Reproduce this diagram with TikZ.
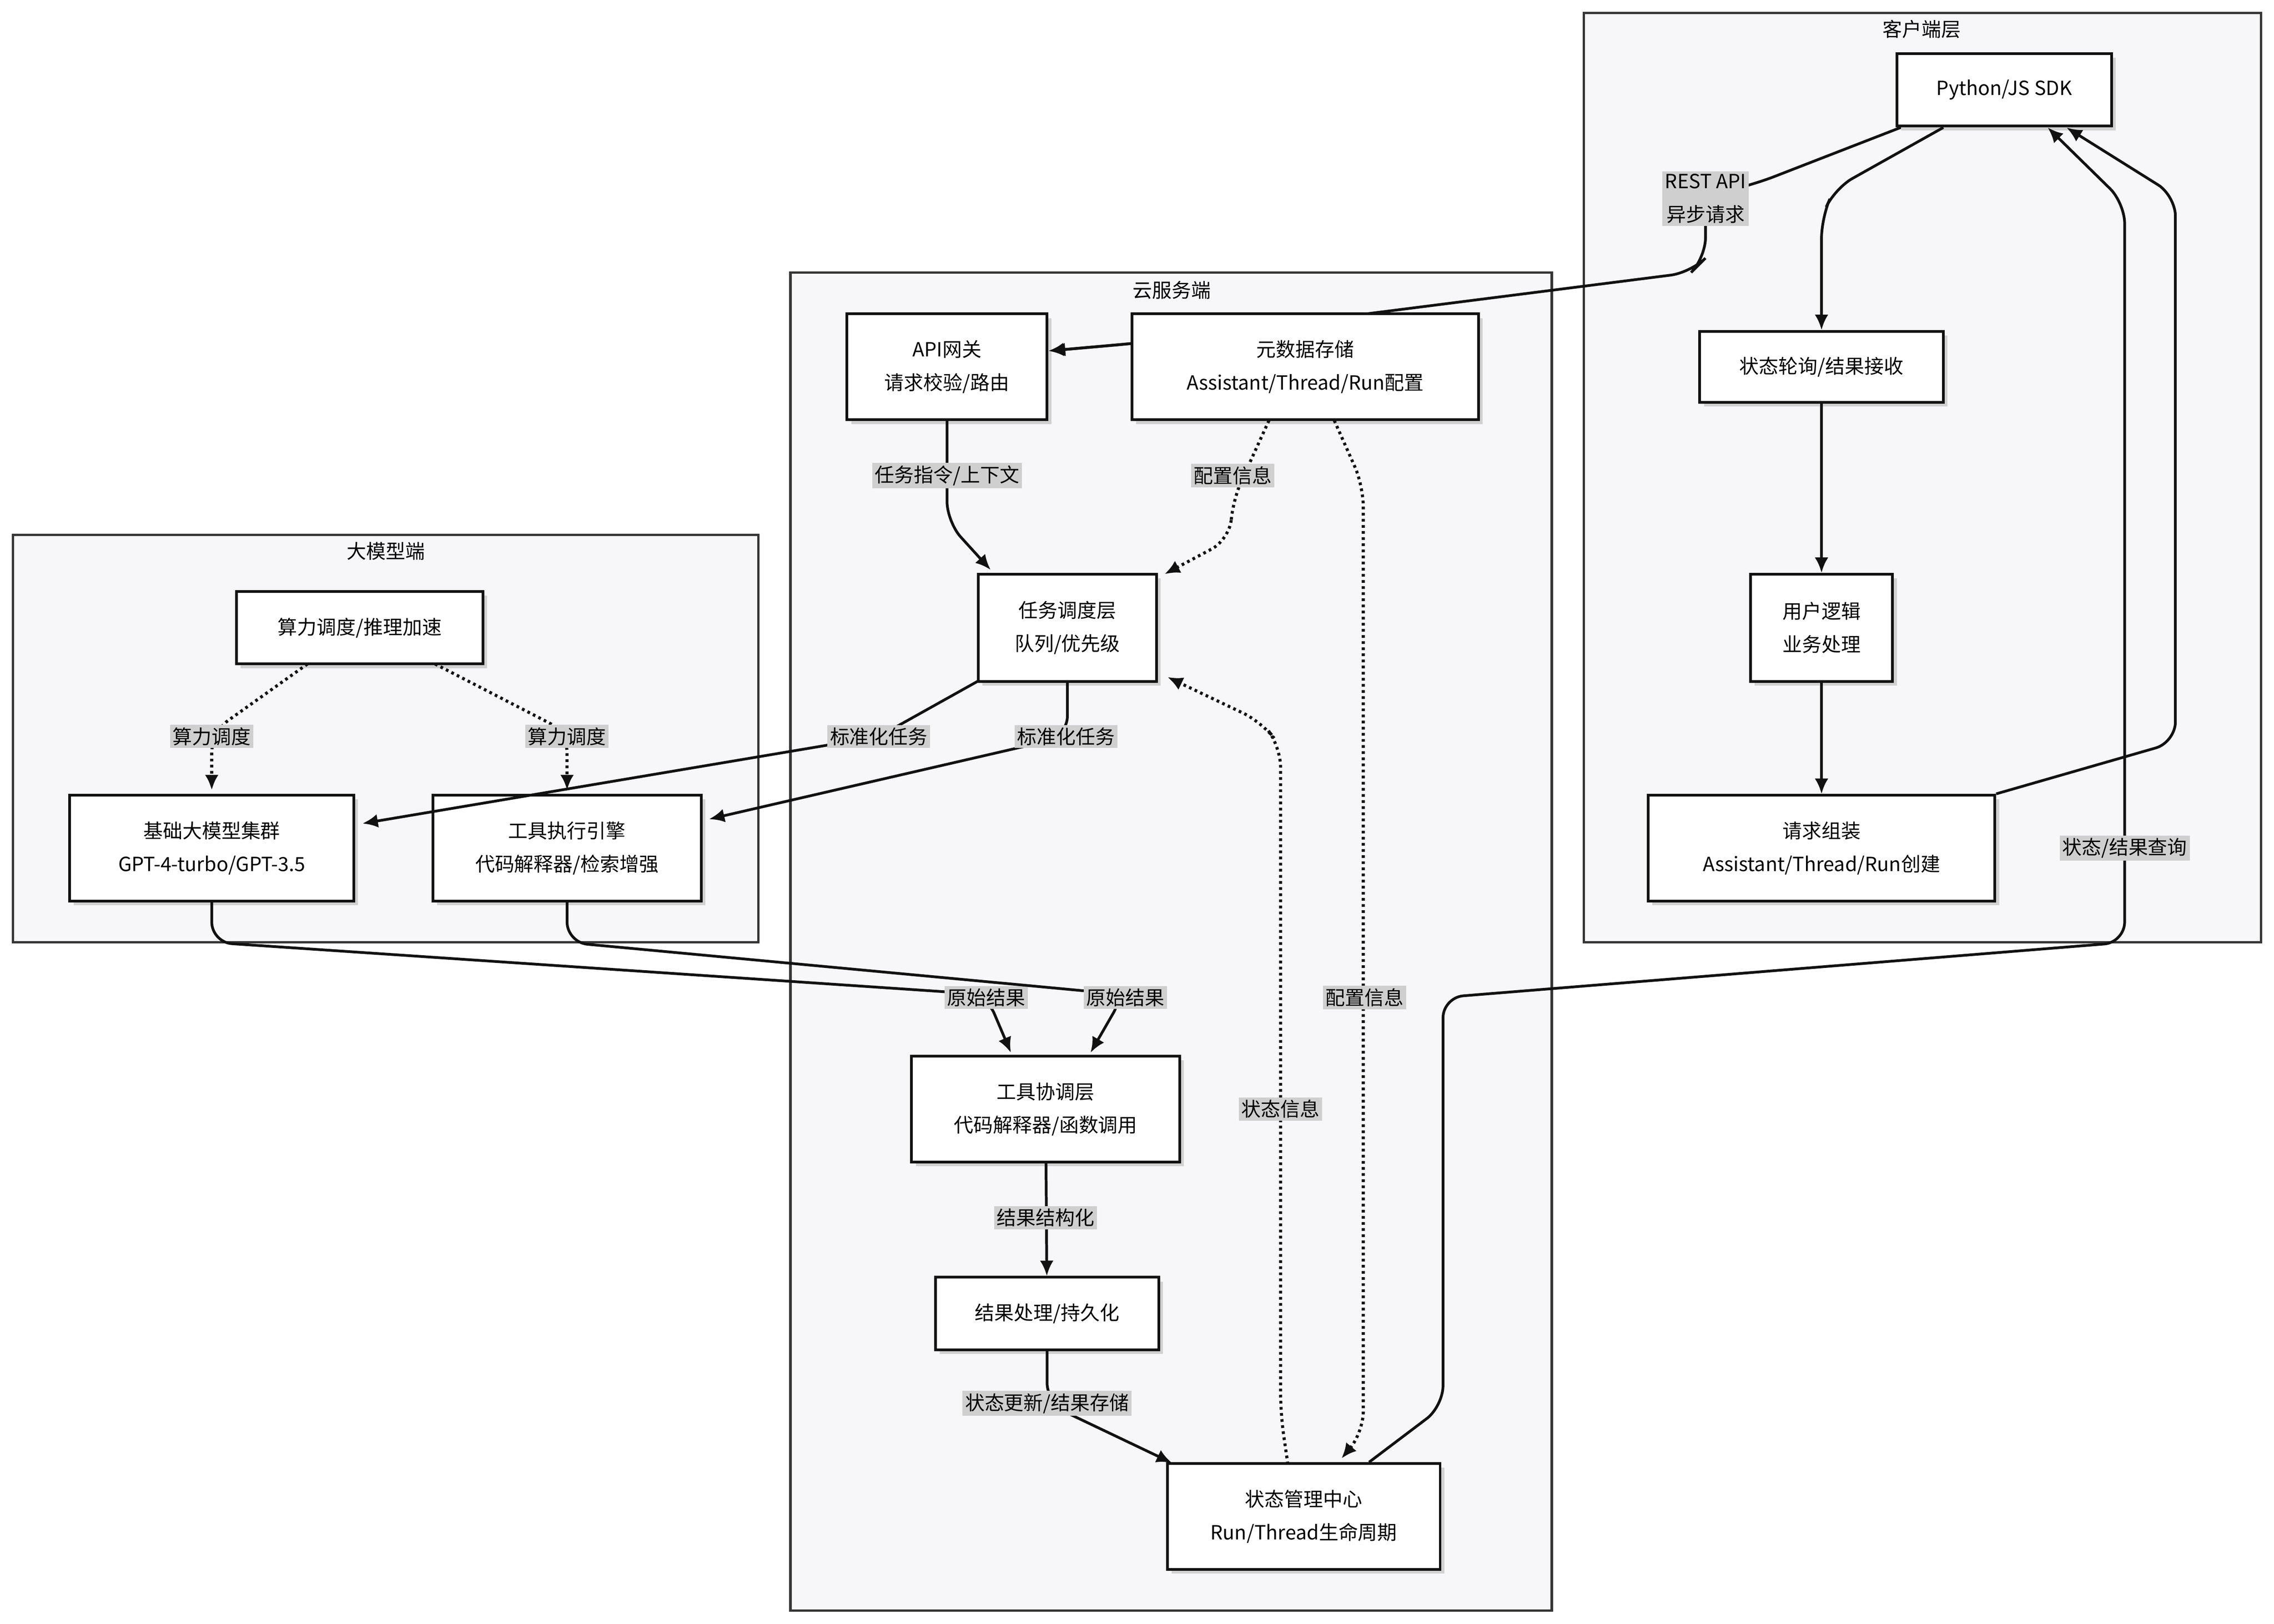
\documentclass[tikz,border=0pt]{standalone}
\usepackage{fontspec}
\setmainfont{Noto Sans CJK SC}
\usetikzlibrary{arrows.meta,shadows}
\definecolor{edge}{HTML}{111111}
\definecolor{clfill}{HTML}{F7F7FA}
\definecolor{lbl}{HTML}{CFCFCF}
\begin{document}
\begin{tikzpicture}[x=0.03cm,y=-0.03cm,
  font=\fontsize{11.5}{19.5}\selectfont,
  box/.style={draw=edge,line width=1.6pt,fill=white,align=center,inner sep=0pt,
    drop shadow={shadow xshift=2.5pt,shadow yshift=-2.5pt,fill=black!18,opacity=1}},
  cluster/.style={draw=edge!85,line width=1.4pt,fill=clfill},
  ctitle/.style={font=\fontsize{11.5}{14}\selectfont},
  conn/.style={draw=edge,line width=1.6pt,rounded corners=12pt,-{Latex[length=9pt,width=8pt]}},
  dconn/.style={conn,dotted,line width=1.8pt},
  lab/.style={fill=lbl,inner sep=1.5pt,align=center,font=\fontsize{11.5}{19.5}\selectfont}]
\useasboundingbox (0,0) rectangle (1568,1120);
% clusters
\draw[cluster] (1092,9) rectangle (1559,650);
\node[ctitle] (t1) at (1325,20) {客户端层};
\draw[cluster] (545,188) rectangle (1070,1111);
\node[ctitle] (t2) at (808,200) {云服务端};
\draw[cluster] (9,369) rectangle (523,650);
\node[ctitle] (t3) at (266,380) {大模型端};
% edges drawn first where nodes cover them
\draw[conn] (1313,87) -- (1210,127) -- (1176,135) -- (1176,178) -- (1166,188) -- (781,237) -- (724,242);
% nodes
\node[box,minimum width=148*0.03cm,minimum height=50*0.03cm] (sdk) at (1382,62) {Python/JS SDK};
\node[box,minimum width=168*0.03cm,minimum height=49*0.03cm] (poll) at (1256,253) {状态轮询/结果接收};
\node[box,minimum width=98*0.03cm,minimum height=74*0.03cm] (logic) at (1256,433) {用户逻辑\\业务处理};
\node[box,minimum width=239*0.03cm,minimum height=73*0.03cm] (req) at (1256,585) {请求组装\\Assistant/Thread/Run创建};
\node[box,minimum width=138*0.03cm,minimum height=73*0.03cm] (api) at (653,253) {API网关\\请求校验/路由};
\node[box,minimum width=239*0.03cm,minimum height=73*0.03cm] (meta) at (900,253) {元数据存储\\Assistant/Thread/Run配置};
\node[box,minimum width=123*0.03cm,minimum height=74*0.03cm] (sched) at (736,433) {任务调度层\\队列/优先级};
\node[box,minimum width=185*0.03cm,minimum height=73*0.03cm] (coord) at (721,765) {工具协调层\\代码解释器/函数调用};
\node[box,minimum width=154*0.03cm,minimum height=50*0.03cm] (proc) at (722,906) {结果处理/持久化};
\node[box,minimum width=188*0.03cm,minimum height=73*0.03cm] (state) at (899,1046) {状态管理中心\\Run/Thread生命周期};
\node[box,minimum width=170*0.03cm,minimum height=50*0.03cm] (comp) at (248,433) {算力调度/推理加速};
\node[box,minimum width=196*0.03cm,minimum height=73*0.03cm] (base) at (146,585) {基础大模型集群\\GPT-4-turbo/GPT-3.5};
\node[box,minimum width=185*0.03cm,minimum height=73*0.03cm] (tool) at (391,585) {工具执行引擎\\代码解释器/检索增强};
% arrow part of sdk->api after meta
\draw[conn] (meta.west |- 0,237) -- (api.east |- 0,242);
\node[lab] (l1) at (1176,137) {REST API\\异步请求};
% client side
\draw[conn] (sdk.south) ++(-42,0) -- (1265,130) -- (1256,150) -- (poll.north);
\draw[conn] (poll) -- (logic);
\draw[conn] (logic) -- (req);
\draw[conn] (req.north east) -- (1500,512) -- (1500,135) -- (1425,88);
\draw[conn] (state.north) ++(45,0) -- (995,970) -- (995,688) -- (1465,650) -- (1465,140) -- (1412,88);
\node[lab] (l2) at (1465,585) {状态/结果查询};
% cloud
\draw[conn] (api.south) -- (653,360) -- (683,393);
\node[lab] (l3) at (653,328) {任务指令/上下文};
\draw[dconn] (875,290) -- (850,345) -- (848,372) -- (803,396);
\node[lab] (l4) at (850,328) {配置信息};
\draw[dconn] (920,290) -- (940,335) -- (940,988) -- (925,1006);
\node[lab] (l5) at (941,688) {配置信息};
\draw[dconn] (888,1010) -- (883,975) -- (883,515) -- (870,498) -- (805,467);
\node[lab] (l6) at (883,765) {状态信息};
\draw[conn] (674,470) -- (606,508) -- (250,568);
\node[lab] (l7) at (606,508) {标准化任务};
\draw[conn] (736,470) -- (736,508) -- (489,565);
\node[lab] (l8) at (735,508) {标准化任务};
\draw[dconn] (212,458) -- (146,505) -- (146,545);
\node[lab] (l9) at (146,508) {算力调度};
\draw[dconn] (300,458) -- (391,505) -- (391,545);
\node[lab] (l10) at (391,508) {算力调度};
\draw[conn] (base.south) -- (146,650) -- (680,686) -- (697,726);
\node[lab] (l11) at (680,688) {原始结果};
\draw[conn] (tool.south) -- (391,650) -- (775,686) -- (752,726);
\node[lab] (l12) at (776,688) {原始结果};
\draw[conn] (coord) -- (proc);
\node[lab] (l13) at (721,840) {结果结构化};
\draw[conn] (proc.south) -- (722,968) -- (808,1009);
\node[lab] (l14) at (722,968) {状态更新/结果存储};
\end{tikzpicture}
\end{document}
